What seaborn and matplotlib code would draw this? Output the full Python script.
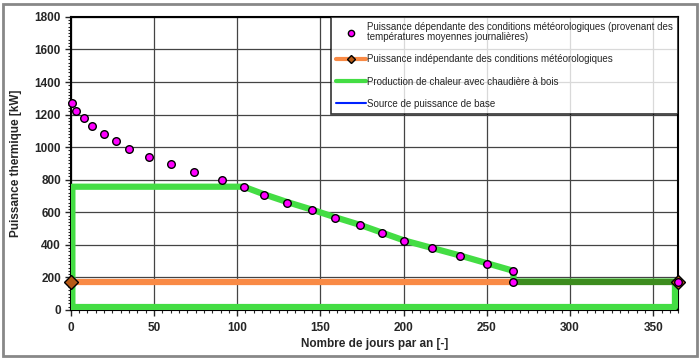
import numpy as np
import pandas as pd
import seaborn as sns
import matplotlib.pyplot as plt
from matplotlib.ticker import MultipleLocator
from matplotlib.patches import Rectangle

# weather dependent power
meteo_days = [1, 3, 8, 13, 20, 27, 35, 47, 60, 74, 91, 104, 116, 130, 145, 159,
              174, 187, 200, 217, 234, 250, 266, 266, 365]
meteo_kw = [1271, 1224, 1177, 1130, 1083, 1036, 989, 942, 895, 848, 801, 754, 707,
            660, 613, 566, 519, 472, 425, 378, 331, 284, 240, 174, 174]

# weather independent power
indep_days = [0, 266]
indep_kw = [174, 174]
indep_marker_days = [0, 365]
indep_marker_kw = [174, 174]

# wood boiler heat production (outline)
bois_days = [1, 1, 104, 116, 130, 145, 159, 174, 187, 200, 217, 234, 250, 266, 266, 363, 363, 1]
bois_kw = [18, 757, 757, 711, 663, 616, 569, 522, 475, 428, 381, 334, 287, 240, 174, 174, 18, 18]

# base power source
base_days = [266, 365]
base_kw = [174, 174]

sns.set_style("white")
plt.rcParams['font.family'] = ['Liberation Sans', 'DejaVu Sans']

fig = plt.figure(figsize=(7, 3.6), dpi=100)
ax = fig.add_axes([0.101, 0.139, 0.868, 0.814])

sns.lineplot(x=indep_days, y=indep_kw, color='#f98a45', lw=4.5, ax=ax, zorder=2)
sns.lineplot(x=bois_days, y=bois_kw, sort=False, estimator=None, color='#44dd44',
             lw=4.5, ax=ax, zorder=3)
sns.lineplot(x=base_days, y=base_kw, color='#0022ff', lw=1.5, ax=ax, zorder=3)
sns.lineplot(x=base_days, y=base_kw, color='#3d8c1e', lw=4.5, ax=ax, zorder=4)
ax.plot(indep_marker_days, indep_marker_kw, ls='none', marker='D', ms=7,
        mfc='#b65a16', mec='black', mew=1, zorder=5, clip_on=False)
sns.scatterplot(x=meteo_days, y=meteo_kw, color='#ff00ff', edgecolor='black',
                linewidth=1, s=30, ax=ax, zorder=6, clip_on=False)

ax.set_xlim(0, 365)
ax.set_ylim(0, 1800)
ax.xaxis.set_major_locator(MultipleLocator(50))
ax.xaxis.set_minor_locator(MultipleLocator(5))
ax.yaxis.set_major_locator(MultipleLocator(200))
ax.yaxis.set_minor_locator(MultipleLocator(20))
ax.grid(True, which='major', color='#444444', lw=0.9)
ax.set_axisbelow(True)
ax.tick_params(which='major', direction='out', length=4, width=1, bottom=True, left=True,
               labelsize=8.5, pad=3)
ax.tick_params(axis='x', which='major', pad=4.5)
ax.tick_params(which='minor', direction='out', length=2.5, width=0.8, bottom=True, left=True)
for lab in ax.get_xticklabels() + ax.get_yticklabels():
    lab.set_fontweight('bold')
for s in ax.spines.values():
    s.set_color('black')
    s.set_linewidth(1.5)

ax.set_xlabel('Nombre de jours par an [-]', fontsize=8.5, fontweight='bold', labelpad=3)
ax.set_ylabel('Puissance thermique [kW]', fontsize=8.5, fontweight='bold', labelpad=9)

h_meteo = plt.Line2D([], [], ls='none', marker='o', ms=4.5, mfc='#ff00ff', mec='black')
h_indep = plt.Line2D([], [], color='#f98a45', lw=3, marker='D', ms=4, mfc='#b65a16', mec='black')
h_bois = plt.Line2D([], [], color='#44dd44', lw=3)
h_base = plt.Line2D([], [], color='#0022ff', lw=1.5)
leg = ax.legend([h_meteo, h_indep, h_bois, h_base],
                ['Puissance dépendante des conditions météorologiques (provenant des\ntempératures moyennes journalières)',
                 'Puissance indépendante des conditions météorologiques',
                 'Production de chaleur avec chaudière à bois',
                 'Source de puissance de base'],
                loc='upper right', bbox_to_anchor=(1.0, 1.0), borderaxespad=0.0,
                fontsize=7, frameon=True, fancybox=False, edgecolor='black',
                handlelength=3, handletextpad=0.15, labelspacing=1.25, borderpad=0.55)
leg.get_frame().set_linewidth(1.2)
leg.set_zorder(10)
for t in leg.get_texts():
    t.set_linespacing(1.0)

fig.patches.append(Rectangle((0.004, 0.012), 0.992, 0.978, transform=fig.transFigure,
                             fill=False, edgecolor='#888888', lw=2))

fig.savefig('out.png', dpi=100)
